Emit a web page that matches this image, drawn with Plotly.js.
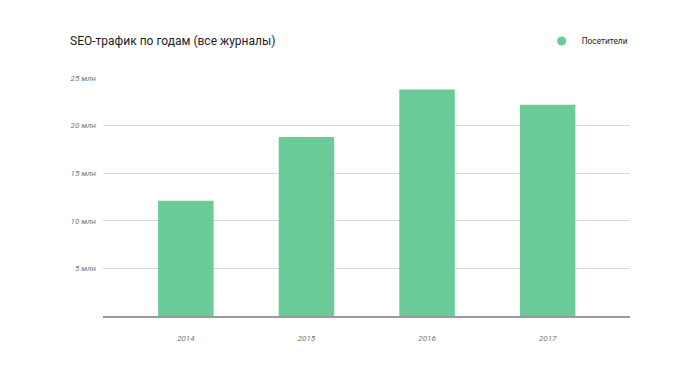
<!DOCTYPE html>
<html>
<head>
<meta charset="utf-8">
<script src="https://cdn.plot.ly/plotly-3.0.1.min.js"></script>
<style>html,body{margin:0;padding:0;background:#fff;}#chart{width:700px;height:373px;}</style>
</head>
<body>
<div id="chart"></div>
<script>
const years = ['2014', '2015', '2016', '2017'];
const visitors = [12.1, 18.8, 23.8, 22.2];
const yTickVals = [5, 10, 15, 20, 25];
const yTickText = ['5 млн', '10 млн', '15 млн', '20 млн', '25 млн'];
const seriesName = 'Посетители';
const chartTitle = 'SEO-трафик по годам (все журналы)';
const barColor = '#6acb98';

const traces = [
  {
    type: 'bar', x: years, y: visitors, name: seriesName,
    marker: {color: barColor}, width: 0.46, showlegend: false,
    hovertemplate: '%{x}: %{y} млн<extra></extra>'
  },
  {
    type: 'scatter', mode: 'markers', x: [null], y: [null], name: seriesName,
    marker: {color: barColor, size: 9, symbol: 'circle'}, showlegend: true
  }
];

const layout = {
  width: 700, height: 373,
  margin: {l: 103, r: 70, t: 78, b: 57},
  paper_bgcolor: '#fff', plot_bgcolor: '#fff',
  font: {family: 'Roboto, Arial, sans-serif', color: '#222'},
  title: {
    text: chartTitle, font: {size: 12, color: '#222', family: 'Roboto, Arial, sans-serif'},
    xref: 'container', x: 70/700, xanchor: 'left',
    yref: 'container', y: 1 - 41/373, yanchor: 'middle'
  },
  showlegend: true,
  legend: {
    orientation: 'h', xref: 'paper', x: 1.005, xanchor: 'right',
    yref: 'container', y: 1 - 41/373, yanchor: 'middle',
    font: {size: 8.3, color: '#222'}, bgcolor: 'rgba(0,0,0,0)'
  },
  xaxis: {
    type: 'category', range: [-0.687, 3.683], fixedrange: true,
    showgrid: false, zeroline: false, showline: true, linecolor: '#999', linewidth: 2,
    ticks: '', ticklabelstandoff: 13,
    tickfont: {size: 8, color: '#757575', family: 'Roboto, Arial, sans-serif', style: 'italic'}
  },
  yaxis: {
    range: [0, 25], fixedrange: true,
    tickvals: yTickVals, ticktext: yTickText,
    showgrid: true, gridcolor: '#d9d9d9', gridwidth: 1,
    zeroline: false, showline: false, ticks: '', ticklabelstandoff: 6,
    tickfont: {size: 8, color: '#757575', family: 'Roboto, Arial, sans-serif', style: 'italic'}
  },
  bargap: 0.54
};

Plotly.newPlot('chart', traces, layout, {displayModeBar: false, staticPlot: false});
</script>
</body>
</html>
